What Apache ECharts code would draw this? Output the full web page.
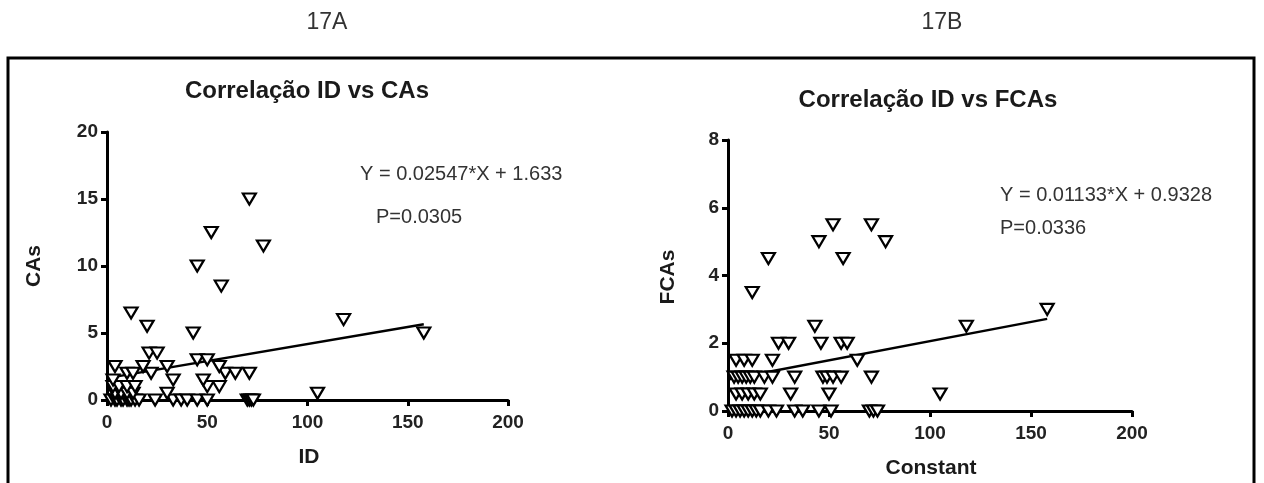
<!DOCTYPE html>
<html>
<head>
    <meta charset="UTF-8">
    <title>Correlação ID</title>
    <script src="https://cdn.jsdelivr.net/npm/echarts@6/dist/echarts.min.js"></script>
    <style>
        body { margin: 0; background: #fff; }
        #chart { width: 1264px; height: 483px; }
    </style>
</head>
<body>
    <div id="chart"></div>
    <script>
        // 17A: ID vs CAs
        const idA = [2, 4, 5, 7, 8, 10, 11, 12, 14, 16, 24, 33, 37, 40, 45, 50, 70, 71, 72, 73,
            4, 7, 10, 13, 30, 105,
            3, 6, 10, 14, 50, 56,
            3, 33, 48,
            10, 13, 22, 59, 64, 71,
            4, 18, 30, 56,
            45, 50,
            21, 25,
            43, 158,
            20, 118, 12, 57, 45, 78, 52, 71];
        const casA = [0, 0, 0, 0, 0, 0, 0, 0, 0, 0, 0, 0, 0, 0, 0, 0, 0, 0, 0, 0,
            0.5, 0.5, 0.5, 0.5, 0.5, 0.5,
            1, 1, 1, 1, 1, 1,
            1.5, 1.5, 1.5,
            2, 2, 2, 2, 2, 2,
            2.5, 2.5, 2.5, 2.5,
            3, 3,
            3.5, 3.5,
            5, 5,
            5.5, 6, 6.5, 8.5, 10, 11.5, 12.5, 15];
        const fitA = [[0, 1.633], [158, 5.66]];

        // 17B: Constant vs FCAs
        const idB = [2, 4, 6, 8, 10, 12, 14, 16, 20, 24, 33, 37, 45, 51, 70, 72, 74,
            4, 7, 10, 13, 16, 31, 50, 105,
            3, 5, 7, 9, 11, 13, 18, 22, 33, 47, 49, 52, 56, 71,
            4, 8, 12, 22, 64,
            25, 30, 46, 56, 59,
            43, 118,
            158, 12, 20, 57, 45, 78, 52, 71];
        const fcasB = [0, 0, 0, 0, 0, 0, 0, 0, 0, 0, 0, 0, 0, 0, 0, 0, 0,
            0.5, 0.5, 0.5, 0.5, 0.5, 0.5, 0.5, 0.5,
            1, 1, 1, 1, 1, 1, 1, 1, 1, 1, 1, 1, 1, 1,
            1.5, 1.5, 1.5, 1.5, 1.5,
            2, 2, 2, 2, 2,
            2.5, 2.5,
            3, 3.5, 4.5, 4.5, 5, 5, 5.5, 5.5];
        const fitB = [[0, 0.9328], [158, 2.72]];

        const xTicks = [0, 200, 50];
        const yTicksA = [0, 20, 5];
        const yTicksB = [0, 8, 2];

        const FONT = 'Arial, "Liberation Sans", Helvetica, sans-serif';

        function pairs(xs, ys) {
            return xs.map((x, i) => [x, ys[i]]);
        }

        function makeAxis(grid, ticks, isX) {
            return {
                type: 'value', gridIndex: grid,
                min: ticks[0], max: ticks[1], interval: ticks[2],
                axisLine: { show: true, onZero: false, lineStyle: { color: '#000', width: 3 } },
                axisTick: { show: true, length: 6, lineStyle: { color: '#000', width: 3 } },
                splitLine: { show: false },
                axisLabel: {
                    color: '#222', fontFamily: FONT, fontWeight: 'bold', fontSize: 19,
                    margin: isX ? 13 : 9
                }
            };
        }

        function scatter(i, data) {
            return {
                type: 'scatter', xAxisIndex: i, yAxisIndex: i, data: data,
                symbol: 'triangle', symbolRotate: 180, symbolSize: [13, 11],
                itemStyle: { color: '#fff', borderColor: '#000', borderWidth: 2.2, opacity: 1 },
                z: 4
            };
        }

        function fitLine(i, data) {
            return {
                type: 'line', xAxisIndex: i, yAxisIndex: i, data: data,
                showSymbol: false, lineStyle: { color: '#000', width: 2.5 }, z: 3
            };
        }

        function label(text, x, y, size, bold, align, rotation) {
            return {
                type: 'text', x: x, y: y, rotation: rotation || 0, silent: true,
                style: {
                    text: text, fill: bold ? '#1a1a1a' : '#333', fontFamily: FONT,
                    fontSize: size, fontWeight: bold ? 'bold' : 'normal',
                    align: align || 'center', verticalAlign: 'middle'
                }
            };
        }

        const chart = echarts.init(document.getElementById('chart'));
        chart.setOption({
            animation: false,
            grid: [
                { left: 107, top: 132, width: 401, height: 268 },
                { left: 728, top: 140, width: 404, height: 271 }
            ],
            xAxis: [makeAxis(0, xTicks, true), makeAxis(1, xTicks, true)],
            yAxis: [makeAxis(0, yTicksA, false), makeAxis(1, yTicksB, false)],
            series: [
                fitLine(0, fitA),
                scatter(0, pairs(idA, casA)),
                fitLine(1, fitB),
                scatter(1, pairs(idB, fcasB))
            ],
            graphic: [
                {
                    type: 'polyline', silent: true, z: -10,
                    shape: { points: [[8, 490], [8, 58], [1254, 58], [1254, 490]] },
                    style: { fill: null, stroke: '#000', lineWidth: 3 }
                },
                label('17A', 327, 23, 23, false),
                label('17B', 942, 23, 23, false),
                label('Correlação ID vs CAs', 307, 91, 24, true),
                label('Correlação ID vs FCAs', 928, 100, 24, true),
                label('Y = 0.02547*X + 1.633', 360, 174, 20, false, 'left'),
                label('P=0.0305', 376, 217, 20, false, 'left'),
                label('Y = 0.01133*X + 0.9328', 1000, 195, 20, false, 'left'),
                label('P=0.0336', 1000, 228, 20, false, 'left'),
                label('ID', 309, 457, 21, true),
                label('Constant', 931, 468, 21, true),
                label('CAs', 34, 266, 21, true, 'center', Math.PI / 2),
                label('FCAs', 668, 277, 21, true, 'center', Math.PI / 2)
            ]
        });
    </script>
</body>
</html>
